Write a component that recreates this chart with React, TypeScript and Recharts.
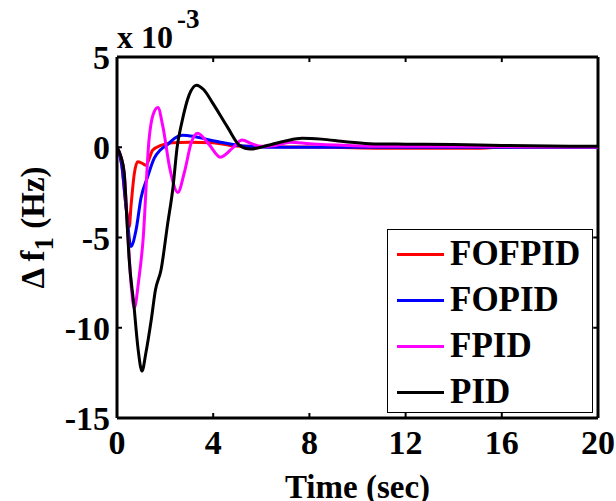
import React from "react";
import { LineChart, Line, XAxis, YAxis, Legend, Label, ReferenceLine } from "recharts";

// time (sec) / deviation (x 1e-3 Hz)
const fofpidTime = [0, 0.2, 0.35, 0.51, 0.58, 0.72, 0.86, 1.06, 1.2, 1.48, 1.83, 2.3, 3.0, 4.0, 4.7, 5.5, 7, 9, 11, 13, 15, 16, 20];
const fofpidValues = [0, -1.0, -3.0, -4.4, -3.3, -1.46, -0.8, -0.9, -1.0, -0.17, 0.1, 0.25, 0.28, 0.25, 0.1, 0.05, 0.02, 0, -0.05, -0.05, -0.05, 0, 0];

const fopidTime = [0, 0.2, 0.4, 0.58, 0.79, 1.0, 1.27, 1.55, 1.8, 2.1, 2.4, 2.72, 3.2, 3.8, 4.3, 5.4, 7, 10, 15, 20];
const fopidValues = [0, -1.0, -3.6, -5.5, -4.6, -2.8, -1.65, -0.6, -0.15, 0.15, 0.5, 0.67, 0.6, 0.42, 0.28, 0.05, 0, 0, 0, 0];

const fpidTime = [0, 0.2, 0.3, 0.45, 0.6, 0.72, 0.9, 1.08, 1.33, 1.5, 1.7, 1.9, 2.2, 2.53, 2.8, 3.1, 3.35, 3.8, 4.3, 4.8, 5.2, 5.6, 6.0, 6.6, 7.2, 8.0, 9.6, 11, 14, 17, 20];
const fpidValues = [0, -0.7, -1.4, -4.8, -7.8, -8.9, -7.4, -5.2, 0.4, 1.8, 2.2, 1.2, -1.2, -2.5, -1.4, 0.3, 0.78, 0.2, -0.55, -0.05, 0.4, 0.2, 0.05, 0.1, 0.28, 0.2, 0.1, 0.05, 0.05, 0.03, 0.02];

const pidTime = [0, 0.17, 0.3, 0.42, 0.5, 0.7, 0.87, 1.04, 1.2, 1.42, 1.6, 1.83, 2.1, 2.33, 2.5, 2.7, 3.0, 3.3, 3.6, 4.0, 4.6, 5.1, 5.55, 6.25, 7.0, 7.7, 8.5, 9.5, 10.5, 12, 14, 16, 18, 20];
const pidValues = [0, -0.55, -1.45, -4.2, -6.1, -8.7, -11.1, -12.4, -11.4, -9.6, -7.9, -6.8, -4.3, -2.2, 0.0, 1.4, 2.9, 3.44, 3.2, 2.4, 1.1, 0.1, -0.1, 0.1, 0.35, 0.5, 0.45, 0.3, 0.2, 0.17, 0.15, 0.1, 0.07, 0.05];

const xTicks = [0, 4, 8, 12, 16, 20];
const yTicks = [-15, -10, -5, 0, 5];

const toPoints = (time: number[], values: number[]) =>
  time.map((t, i) => ({ t, v: values[i] }));

const series = [
  { name: "FOFPID", color: "#ff0000", data: toPoints(fofpidTime, fofpidValues) },
  { name: "FOPID", color: "#0000ff", data: toPoints(fopidTime, fopidValues) },
  { name: "FPID", color: "#ff00ff", data: toPoints(fpidTime, fpidValues) },
  { name: "PID", color: "#000000", data: toPoints(pidTime, pidValues) },
];

const xMin = 0, xMax = 20, yMin = -15, yMax = 5;
const font = "'Liberation Serif', 'Times New Roman', serif";
const tickStyle = { fill: "#000", fontSize: 34, fontWeight: "bold", fontFamily: font };

function YTitle(props: any) {
  const vb = props.viewBox;
  const cx = 44;
  const cy = vb.y + vb.height / 2 - 10;
  return (
    <text
      x={cx}
      y={cy}
      transform={`rotate(-90, ${cx}, ${cy})`}
      textAnchor="middle"
      fontFamily={font}
      fontWeight="bold"
      fontSize={33}
      fill="#000"
    >
      Δ f
      <tspan dy={9} fontSize={27}>1</tspan>
      <tspan dy={-9}> (Hz)</tspan>
    </text>
  );
}

function ScaleNote(props: any) {
  const vb = props.viewBox;
  return (
    <text x={vb.x} y={vb.y - 9} fontFamily={font} fontWeight="bold" fontSize={32} fill="#000">
      x 10
      <tspan dy={-20} dx={4} fontSize={27}>-3</tspan>
    </text>
  );
}

function LegendBox(props: any) {
  const items = props.payload || [];
  return (
    <div
      style={{
        width: 206,
        height: 184,
        boxSizing: "border-box",
        border: "1px solid #000",
        background: "#fff",
        paddingTop: 1,
      }}
    >
      {items.map((it: any) => (
        <div key={it.value} style={{ display: "flex", alignItems: "center", height: 46 }}>
          <span style={{ display: "inline-block", width: 47, height: 3, background: it.color, marginLeft: 9, marginRight: 6 }} />
          <span style={{ fontFamily: font, fontWeight: "bold", fontSize: 35, color: "#000", lineHeight: "46px" }}>
            {it.value}
          </span>
        </div>
      ))}
    </div>
  );
}

export default function App() {
  return (
    <div style={{ position: "absolute", left: 0, top: 0, background: "#fff" }}>
      <LineChart width={616} height={501} margin={{ top: 57, right: 18, bottom: 0, left: 0 }}>
        <XAxis
          dataKey="t"
          type="number"
          domain={[xMin, xMax]}
          ticks={xTicks}
          interval={0}
          allowDataOverflow
          height={83}
          axisLine={{ stroke: "#000", strokeWidth: 3 }}
          tickLine={{ stroke: "#000", strokeWidth: 2 }}
          tickSize={-5}
          tickMargin={17}
          tick={tickStyle}
        >
          <Label value="Time (sec)" position="insideBottom" offset={3} fill="#000" fontSize={33} fontWeight="bold" fontFamily={font} />
        </XAxis>
        <YAxis
          type="number"
          domain={[yMin, yMax]}
          ticks={yTicks}
          interval={0}
          allowDataOverflow
          width={117}
          axisLine={{ stroke: "#000", strokeWidth: 3 }}
          tickLine={{ stroke: "#000", strokeWidth: 2 }}
          tickSize={-5}
          tickMargin={12}
          tick={tickStyle}
        >
          <Label content={<YTitle />} />
        </YAxis>

        {/* box frame (top / right) with inward ticks, MATLAB style */}
        <ReferenceLine y={yMax} stroke="#000" strokeWidth={3} ifOverflow="visible">
          <Label content={<ScaleNote />} />
        </ReferenceLine>
        <ReferenceLine x={xMax} stroke="#000" strokeWidth={3} ifOverflow="visible" />
        {xTicks.slice(1, -1).map((t) => (
          <ReferenceLine
            key={"tx" + t}
            segment={[{ x: t, y: yMax }, { x: t, y: yMax - 0.28 }]}
            stroke="#000"
            strokeWidth={2}
          />
        ))}
        {yTicks.slice(1, -1).map((v) => (
          <ReferenceLine
            key={"ty" + v}
            segment={[{ x: xMax, y: v }, { x: xMax - 0.2, y: v }]}
            stroke="#000"
            strokeWidth={2}
          />
        ))}

        {series.map((s) => (
          <Line
            key={s.name}
            data={s.data}
            dataKey="v"
            name={s.name}
            type="monotone"
            stroke={s.color}
            strokeWidth={3}
            dot={false}
            activeDot={false}
            isAnimationActive={false}
          />
        ))}
        <Legend
          layout="horizontal"
          verticalAlign="middle"
          align="center"
          content={<LegendBox />}
          wrapperStyle={{ left: 387, top: 229, width: 206, height: 184 }}
        />
      </LineChart>
    </div>
  );
}
